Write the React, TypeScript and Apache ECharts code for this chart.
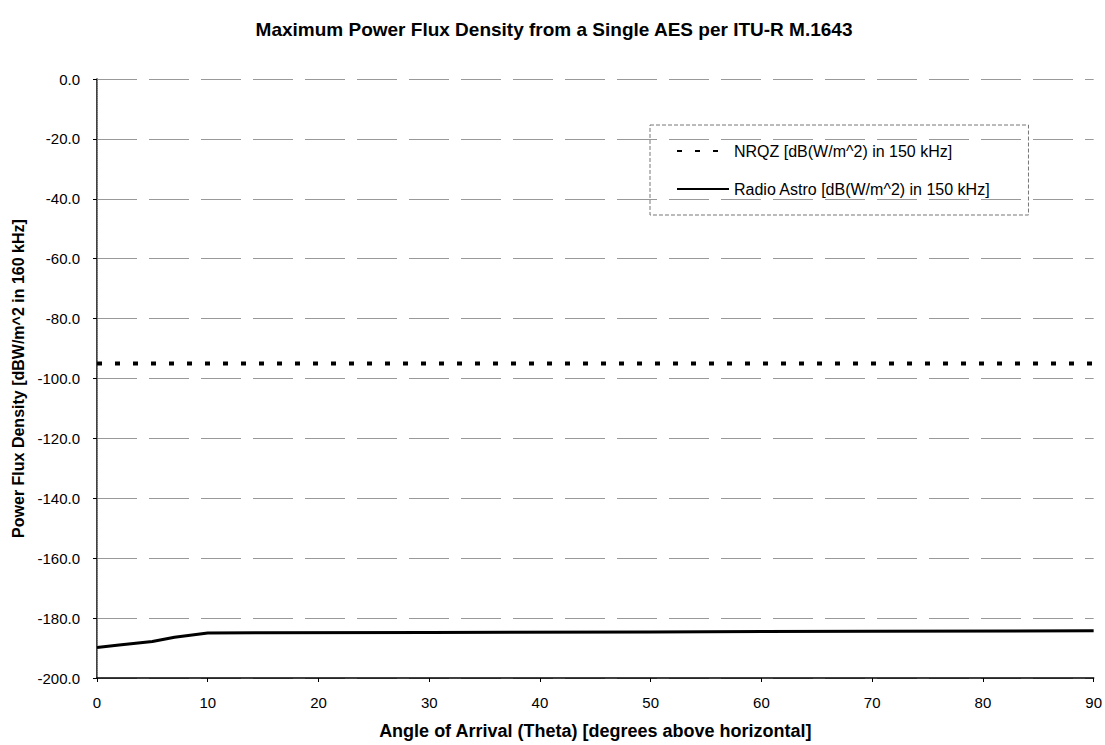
import React, { useEffect, useRef } from "react";
import * as echarts from "echarts";

const TITLE = "Maximum Power Flux Density from a Single AES per ITU-R M.1643";
const X_TITLE = "Angle of Arrival (Theta) [degrees above horizontal]";
const Y_TITLE = "Power Flux Density [dBW/m^2 in 160 kHz]";
const SERIES_NAMES = ["NRQZ [dB(W/m^2) in 150 kHz]", "Radio Astro [dB(W/m^2) in 150 kHz]"];

const nrqzTheta = [0, 90];
const nrqzValues = [-95, -95];

const astroTheta = [0, 2, 5, 7, 10, 15, 30, 50, 70, 90];
const astroValues = [-189.8, -189.0, -187.8, -186.4, -185.0, -184.9, -184.8, -184.6, -184.4, -184.2];

const FONT = "'Liberation Sans', Arial, sans-serif";

export default function App() {
  const ref = useRef<HTMLDivElement>(null);
  useEffect(() => {
    if (!ref.current) return;
    const chart = echarts.init(ref.current, null, { renderer: "svg" });
    const hidden = { color: "rgba(0,0,0,0)", borderColor: "rgba(0,0,0,0)", borderWidth: 0, opacity: 0 };
    chart.setOption({
      animation: false,
      backgroundColor: "#ffffff",
      textStyle: { fontFamily: FONT },
      title: {
        text: TITLE,
        left: 549,
        top: 15,
        textAlign: "center",
        textStyle: { fontFamily: FONT, fontSize: 19, fontWeight: "bold", color: "#000" },
      },
      legend: {
        orient: "vertical",
        left: 650,
        top: 125,
        padding: [18, 38, 18, 26],
        itemGap: 22,
        itemWidth: 52,
        itemHeight: 10,
        borderColor: "#777",
        borderWidth: 1,
        borderType: "dashed",
        textStyle: { fontFamily: FONT, fontSize: 16, color: "#000" },
        data: SERIES_NAMES.map((n) => ({ name: n, itemStyle: hidden })),
      },
      grid: { left: 97, right: 10, top: 79, bottom: 65, containLabel: false },
      xAxis: {
        type: "value",
        min: 0,
        max: 90,
        interval: 10,
        name: X_TITLE,
        nameLocation: "middle",
        nameGap: 44,
        nameTextStyle: { fontFamily: FONT, fontSize: 18, fontWeight: "bold", color: "#000" },
        axisLine: { show: true, onZero: false, lineStyle: { color: "#000", width: 1.5 } },
        axisTick: { show: true, inside: false, length: 4, lineStyle: { color: "#000" } },
        axisLabel: { fontFamily: FONT, fontSize: 15, color: "#000", margin: 17 },
        splitLine: { show: false },
      },
      yAxis: [
        {
          type: "value",
          min: -200,
          max: 0,
          interval: 20,
          name: Y_TITLE,
          nameLocation: "middle",
          nameGap: 68,
          nameTextStyle: { fontFamily: FONT, fontSize: 16, fontWeight: "bold", color: "#000" },
          axisLine: { show: true, onZero: false, lineStyle: { color: "#000", width: 1.5 } },
          axisTick: { show: true, length: 4, lineStyle: { color: "#000" } },
          axisLabel: {
            fontFamily: FONT,
            fontSize: 15,
            color: "#000",
            margin: 17,
            formatter: (v: number) => v.toFixed(1),
          },
          splitLine: { show: true, lineStyle: { color: "#999", width: 1, type: [40, 12] } },
        },
        {
          type: "value",
          position: "right",
          min: -200,
          max: 0,
          interval: 20,
          axisLine: { show: true, lineStyle: { color: "#888", width: 1, type: "dotted" } },
          axisTick: { show: false },
          axisLabel: { show: false },
          splitLine: { show: false },
        },
      ],
      series: [
        {
          name: SERIES_NAMES[0],
          type: "line",
          data: nrqzTheta.map((t, i) => [t, nrqzValues[i]]),
          showSymbol: false,
          symbol: "none",
          lineStyle: { color: "#000", width: 4, type: [5, 13] },
          itemStyle: { color: "#000" },
        },
        {
          name: SERIES_NAMES[1],
          type: "line",
          data: astroTheta.map((t, i) => [t, astroValues[i]]),
          showSymbol: false,
          symbol: "none",
          lineStyle: { color: "#000", width: 3 },
          itemStyle: { color: "#000" },
        },
      ],
    });
    return () => chart.dispose();
  }, []);
  return (
    <div
      ref={ref}
      style={{ position: "fixed", left: 0, top: 0, width: 1105, height: 745, background: "#fff" }}
    />
  );
}
